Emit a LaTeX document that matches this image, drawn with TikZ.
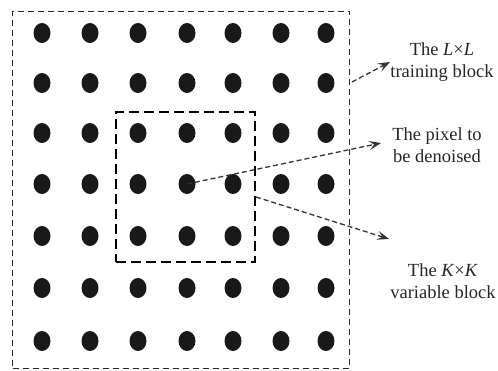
\documentclass[tikz,border=0pt]{standalone}
\usepackage{fontspec}
\setmainfont{Liberation Serif}
\usetikzlibrary{arrows.meta,calc,shapes.geometric}
\begin{document}
\begin{tikzpicture}[x=1pt,y=-1pt,
  dot/.style={ellipse,fill=black!90,minimum width=17pt,minimum height=20pt,inner sep=0pt},
  outerbox/.style={draw=black!85,line width=0.9pt,dash pattern=on 6pt off 4pt},
  innerbox/.style={draw=black,line width=2pt,dash pattern=on 10pt off 5pt},
  pointer/.style={draw=black!80,line width=1.3pt,dash pattern=on 5pt off 3pt,
    -{Stealth[length=12pt,width=9pt,inset=5pt]}},
  label/.style={font=\fontsize{18.5}{22.5}\selectfont,align=center,text=black!85,inner sep=0pt}]
\useasboundingbox (0,0) rectangle (498,371);
% outer L x L window and inner K x K window
\node[outerbox,minimum width=337pt,minimum height=357pt,inner sep=0pt] (outer) at (181,189.5) {};
\node[innerbox,minimum width=139pt,minimum height=150pt,inner sep=0pt] (inner) at (185.5,187) {};
% 7 x 7 pixel grid
\foreach \c/\x in {1/42,2/90,3/138,4/187,5/233,6/281,7/326}{
  \foreach \r/\y in {1/33,2/83,3/133,4/184,5/236,6/288,7/341}{
    \node[dot] (p\c\r) at (\x,\y) {};
  }
}
% descriptive labels
\node[label] (lL) at (442,62) {The \textit{L}×\textit{L}\\training block};
\node[label] (lP) at (437,145) {The pixel to\\be denoised};
\node[label] (lK) at (443,281) {The \textit{K}×\textit{K}\\variable block};
% pointer ends
\coordinate (aL) at (352,82);
\coordinate (tL) at (390,62);
\coordinate (tP) at (381,143);
\coordinate (aK) at (inner.east |- 0,197);
\coordinate (tK) at (389,239);
\draw[pointer] (aL) -- (tL);
\draw[pointer] (p44.center) -- (tP);
\draw[pointer] (aK) -- (tK);
\end{tikzpicture}
\end{document}
